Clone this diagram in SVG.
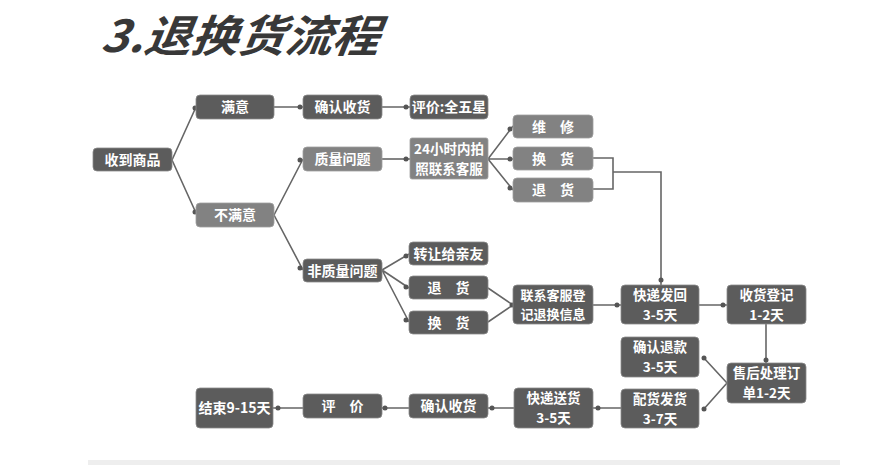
<svg xmlns="http://www.w3.org/2000/svg" width="896" height="465" viewBox="0 0 896 465">
<style>
.bd{fill:#5c5c5c;stroke:#8a8a8a;stroke-width:0.8}
.bl{fill:#828282;stroke:#a0a0a0;stroke-width:0.8}
.t{font-family:"Noto Sans CJK SC","Noto Sans",sans-serif;font-size:14px;font-weight:bold;fill:#ffffff;text-anchor:middle}
.t2{font-size:13.5px}
.ts{font-size:13px}
.ln{fill:none;stroke:#666666;stroke-width:1.6}
.dot{fill:#555555}
.title{font-family:"Noto Sans CJK SC","Noto Sans",sans-serif;font-size:44px;font-weight:bold;font-style:italic;fill:#383838}
</style>
<rect width="896" height="465" fill="#ffffff"/>
<text class="title" x="100" y="52" textLength="278" lengthAdjust="spacingAndGlyphs" transform="skewX(-8) translate(7,0)">3.退换货流程</text>
<rect x="88" y="460" width="752" height="5" fill="#eeeeee"/>

<g id="connectors">
<path class="ln" d="M172,160 L196,107 M172,160 L196,213"/>
<path class="ln" d="M274,107 H303 M382,107 H410"/>
<path class="ln" d="M274,215 L303,159 M274,215 L303,270"/>
<path class="ln" d="M382,159 H410"/>
<path class="ln" d="M488,159 L513,126 M488,159 H513 M488,159 L513,190"/>
<path class="ln" d="M593,158 H613 V189 H593 M613,172 H661 V285"/>
<path class="ln" d="M382,270 L409,254 M382,270 L409,288 M382,270 L409,322"/>
<path class="ln" d="M488,288 L513,305 M488,322 L513,305"/>
<path class="ln" d="M593,305 H621 M699,305 H727"/>
<path class="ln" d="M766,324 V363"/>
<path class="ln" d="M727,383 L703,357 M727,383 L703,410"/>
<path class="ln" d="M621,408 H593 M514,408 H488 M409,408 H382 M303,408 H273"/>
<g class="dot">
<circle cx="195" cy="108" r="2.5"/><circle cx="195" cy="212" r="2.5"/>
<circle cx="300" cy="107" r="2.5"/><circle cx="406" cy="107" r="2.5"/>
<circle cx="300" cy="160" r="2.5"/><circle cx="300" cy="268" r="2.5"/>
<circle cx="406" cy="159" r="2.5"/>
<circle cx="510" cy="129" r="2.5"/><circle cx="510" cy="159" r="2.5"/><circle cx="510" cy="188" r="2.5"/>
<circle cx="661" cy="280" r="2.5"/>
<circle cx="406" cy="256" r="2.5"/><circle cx="406" cy="287" r="2.5"/><circle cx="406" cy="320" r="2.5"/>
<circle cx="512" cy="305" r="2.5"/>
<circle cx="617" cy="305" r="2.5"/><circle cx="723" cy="305" r="2.5"/>
<circle cx="766" cy="360" r="2.5"/>
<circle cx="704" cy="358" r="2.5"/><circle cx="704" cy="409" r="2.5"/>
<circle cx="598" cy="408" r="2.5"/><circle cx="492" cy="408" r="2.5"/><circle cx="385" cy="408" r="2.5"/><circle cx="278" cy="408" r="2.5"/>
</g>
</g>

<g id="n-receive"><rect class="bd" x="93" y="148" width="79" height="23" rx="4"/><text class="t" x="132.5" y="164.5">收到商品</text></g>
<g id="n-satisfied"><rect class="bd" x="196" y="95" width="78" height="24" rx="4"/><text class="t" x="235" y="112">满意</text></g>
<g id="n-unsatisfied"><rect class="bl" x="196" y="203" width="78" height="24" rx="4"/><text class="t" x="235" y="220">不满意</text></g>
<g id="n-confirm1"><rect class="bd" x="303" y="95" width="79" height="24" rx="4"/><text class="t" x="342.5" y="112">确认收货</text></g>
<g id="n-review5"><rect class="bd" x="410" y="95" width="78" height="24" rx="4"/><text class="t" x="449" y="112">评价:全五星</text></g>
<g id="n-quality"><rect class="bl" x="303" y="147" width="79" height="24" rx="4"/><text class="t" x="342.5" y="164">质量问题</text></g>
<g id="n-24h"><rect class="bl" x="410" y="138" width="78" height="41" rx="2"/><text class="t t2" x="449" y="153.5">24小时内拍<tspan x="449" dy="20">照联系客服</tspan></text></g>
<g id="n-repair"><rect class="bl" x="513" y="115" width="80" height="23" rx="4"/><text class="t" x="553" y="131.5">维　修</text></g>
<g id="n-exchange1"><rect class="bl" x="513" y="147" width="80" height="23" rx="4"/><text class="t" x="553" y="163.5">换　货</text></g>
<g id="n-return1"><rect class="bl" x="513" y="178" width="80" height="24" rx="4"/><text class="t" x="553" y="195">退　货</text></g>
<g id="n-nonquality"><rect class="bd" x="303" y="259" width="79" height="23" rx="4"/><text class="t" x="342.5" y="275.5">非质量问题</text></g>
<g id="n-transfer"><rect class="bd" x="409" y="242" width="79" height="23" rx="4"/><text class="t" x="448.5" y="258.5">转让给亲友</text></g>
<g id="n-return2"><rect class="bd" x="409" y="276" width="79" height="23" rx="4"/><text class="t" x="448.5" y="292.5">退　货</text></g>
<g id="n-exchange2"><rect class="bd" x="409" y="311" width="79" height="23" rx="4"/><text class="t" x="448.5" y="327.5">换　货</text></g>
<g id="n-contact"><rect class="bd" x="513" y="285" width="80" height="39" rx="4"/><text class="t ts" x="553" y="300">联系客服登<tspan x="553" dy="19">记退换信息</tspan></text></g>
<g id="n-shipback"><rect class="bd" x="621" y="285" width="78" height="39" rx="4"/><text class="t t2" x="660" y="299.5">快递发回<tspan x="660" dy="20">3-5天</tspan></text></g>
<g id="n-register"><rect class="bd" x="727" y="285" width="79" height="39" rx="4"/><text class="t t2" x="766.5" y="299.5">收货登记<tspan x="766.5" dy="20">1-2天</tspan></text></g>
<g id="n-refund"><rect class="bd" x="621" y="337" width="78" height="40" rx="4"/><text class="t t2" x="660" y="352">确认退款<tspan x="660" dy="20">3-5天</tspan></text></g>
<g id="n-process"><rect class="bd" x="727" y="363" width="79" height="40" rx="4"/><text class="t t2" x="766.5" y="378">售后处理订<tspan x="766.5" dy="20">单1-2天</tspan></text></g>
<g id="n-dispatch"><rect class="bd" x="621" y="389" width="78" height="39" rx="4"/><text class="t t2" x="660" y="403.5">配货发货<tspan x="660" dy="20">3-7天</tspan></text></g>
<g id="n-deliver"><rect class="bd" x="514" y="388" width="79" height="40" rx="4"/><text class="t t2" x="553.5" y="403">快递送货<tspan x="553.5" dy="20">3-5天</tspan></text></g>
<g id="n-confirm2"><rect class="bd" x="409" y="394" width="79" height="24" rx="4"/><text class="t" x="448.5" y="411">确认收货</text></g>
<g id="n-review"><rect class="bd" x="303" y="394" width="79" height="24" rx="4"/><text class="t" x="342.5" y="411">评　价</text></g>
<g id="n-end"><rect class="bd" x="196" y="388" width="77" height="40" rx="4"/><text class="t" x="234.5" y="413">结束9-15天</text></g>
</svg>
